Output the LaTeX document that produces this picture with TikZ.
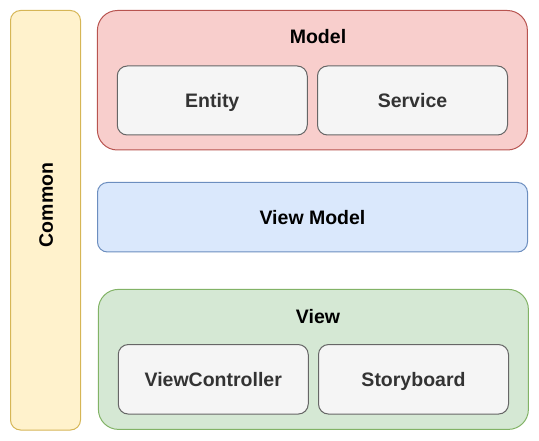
\documentclass[tikz,border=0pt]{standalone}
\usepackage{fontspec}
\setmainfont{Liberation Sans}
\definecolor{cfill}{HTML}{FFF2CC}
\definecolor{cline}{HTML}{D6B656}
\definecolor{mfill}{HTML}{F8CECC}
\definecolor{mline}{HTML}{B85450}
\definecolor{vmfill}{HTML}{DAE8FC}
\definecolor{vmline}{HTML}{6C8EBF}
\definecolor{vfill}{HTML}{D5E8D4}
\definecolor{vline}{HTML}{82B366}
\definecolor{ifill}{HTML}{F5F5F5}
\definecolor{iline}{HTML}{666666}
\definecolor{itext}{HTML}{333333}
\begin{document}
\begin{tikzpicture}[x=1pt,y=-1pt,
  every node/.style={inner sep=0pt,outer sep=0pt,font=\fontsize{19.5}{23}\selectfont\bfseries},
  layer/.style={draw,line width=1pt,minimum width=430pt,rounded corners=#1},
  inner/.style={draw=iline,fill=ifill,text=itext,line width=1pt,minimum width=190pt,minimum height=69pt,rounded corners=10pt,text height=14pt,text depth=0pt},
  title/.style={anchor=base}]
\useasboundingbox (0,0) rectangle (539,441);
% Common
\node[draw=cline,fill=cfill,line width=1pt,minimum width=70pt,minimum height=419.5pt,rounded corners=10pt] (common) at (45.5,220.25) {};
\node[rotate=90,text height=14pt,text depth=0pt] (commontext) at (45.8,205) {Common};
% Model
\node[layer=20pt,draw=mline,fill=mfill,minimum height=139.5pt] (model) at (312.4,80.25) {};
\node[title] (modeltitle) at (318,44) {Model};
\node[inner] (entity) at (212.25,100.5) {Entity};
\node[inner] (service) at (412.5,100.5) {Service};
% View Model
\node[layer=10pt,draw=vmline,fill=vmfill,minimum height=69.5pt,text height=14pt,text depth=0pt] (viewmodel) at (312.5,217.25) {View Model};
% View
\node[layer=20pt,draw=vline,fill=vfill,minimum height=140pt] (view) at (313.4,359.4) {};
\node[title] (viewtitle) at (318,323.3) {View};
\node[inner,minimum height=69.5pt] (vc) at (213.25,379.3) {ViewController};
\node[inner,minimum height=69.5pt] (sb) at (413.5,379.3) {Storyboard};
\end{tikzpicture}
\end{document}
